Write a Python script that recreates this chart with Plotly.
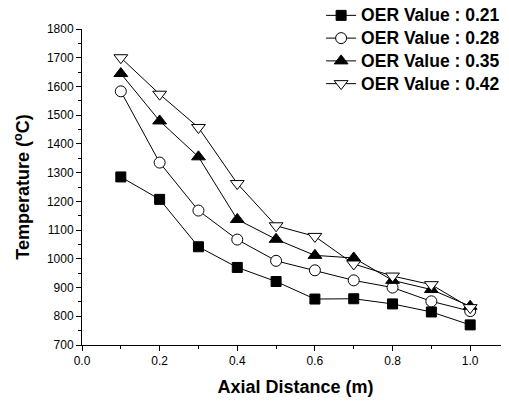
import plotly.graph_objects as go

x_vals = [0.1, 0.2, 0.3, 0.4, 0.5, 0.6, 0.7, 0.8, 0.9, 1.0]
oer_021 = [1285, 1207, 1042, 970, 921, 860, 861, 843, 815, 770]
oer_028 = [1583, 1335, 1168, 1067, 993, 960, 925, 900, 852, 818]
oer_035 = [1645, 1480, 1355, 1137, 1068, 1012, 1003, 925, 893, 835]
oer_042 = [1700, 1573, 1457, 1262, 1115, 1078, 982, 940, 910, 830]
names = ["OER Value : 0.21", "OER Value : 0.28", "OER Value : 0.35", "OER Value : 0.42"]
x_ticks = [0.0, 0.2, 0.4, 0.6, 0.8, 1.0]
x_ticklabels = ["0.0", "0.2", "0.4", "0.6", "0.8", "1.0"]
y_ticks = [700, 800, 900, 1000, 1100, 1200, 1300, 1400, 1500, 1600, 1700, 1800]

series = [oer_021, oer_028, oer_035, oer_042]
symbols = ["square", "circle-open", "triangle-up", "triangle-down-open"]
sizes = [10, 11, 12, 12]

fig = go.Figure()
for i, (ys, nm) in enumerate(zip(series, names)):
    open_ = "open" in symbols[i]
    fig.add_trace(go.Scatter(
        x=x_vals, y=ys,
        name=f"<span style='font-size:17.5px;font-weight:bold'>{nm}</span>",
        mode="lines+markers",
        line=dict(color="black", width=1),
        marker=dict(symbol=symbols[i].replace("-open", ""), size=sizes[i],
                    color="white" if open_ else "black",
                    line=dict(color="black", width=1)),
    ))

font_family = "Liberation Sans, Arial, sans-serif"
fig.update_layout(
    width=501, height=393,
    margin=dict(l=74, r=0, t=21, b=56, autoexpand=False),
    plot_bgcolor="white", paper_bgcolor="white",
    font=dict(family=font_family, color="black"),
    showlegend=True,
    legend=dict(x=0.56, y=1.095, xanchor="left", yanchor="top",
                font=dict(size=15.2, family=font_family, color="black"),
                bgcolor="rgba(0,0,0,0)"),
    xaxis=dict(range=[0, 1.1], tickmode="array",
               tickvals=x_ticks, ticktext=x_ticklabels,
               ticks="outside", ticklen=5, tickwidth=1, tickcolor="black",
               minor=dict(tickvals=[0.1, 0.3, 0.5, 0.7, 0.9], ticks="outside", ticklen=3, tickcolor="black"),
               showline=True, linecolor="black", linewidth=1, showgrid=False, zeroline=False,
               tickfont=dict(size=12), automargin=False,
               title=dict(text="<b>Axial Distance (m)</b>", font=dict(size=18), standoff=12)),
    yaxis=dict(range=[700, 1800], tickmode="array", tickvals=y_ticks,
               ticks="outside", ticklen=5, tickwidth=1, tickcolor="black",
               minor=dict(dtick=50, ticks="outside", ticklen=3, tickcolor="black"),
               showline=True, linecolor="black", linewidth=1, showgrid=False, zeroline=False,
               tickfont=dict(size=12), automargin=False,
               title=dict(text="<b>Temperature (<sup>o</sup>C)</b>", font=dict(size=18), standoff=12)),
)

fig.write_html("out.html")
